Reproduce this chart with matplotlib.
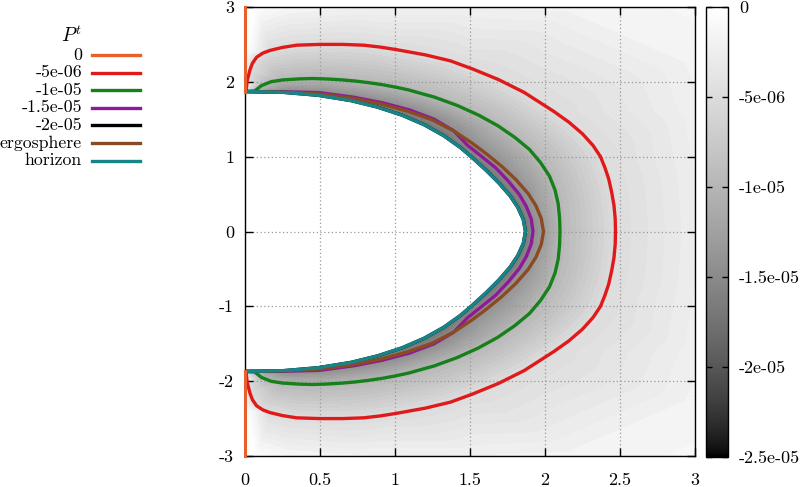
import numpy as np
import matplotlib
matplotlib.use("Agg")
import matplotlib.pyplot as plt
import matplotlib.tri as mtri
from matplotlib.colors import ListedColormap, Normalize
from matplotlib.colorbar import ColorbarBase
from matplotlib.lines import Line2D
from matplotlib.path import Path

plt.rcParams['font.family'] = 'serif'
plt.rcParams['font.serif'] = ['cmr10']
plt.rcParams['mathtext.fontset'] = 'cm'
plt.rcParams['axes.unicode_minus'] = False

# contour curves, upper half only (picture is mirror symmetric in y), pole -> equator
horizon_x = [0.0, 0.261, 0.488, 0.707, 0.884, 1.048, 1.196, 1.325, 1.436, 1.516, 1.607, 1.692, 1.768, 1.819, 1.855, 1.87]
horizon_y = [1.87, 1.859, 1.82, 1.749, 1.662, 1.554, 1.425, 1.28, 1.122, 0.985, 0.819, 0.649, 0.474, 0.321, 0.162, 0.0]

ergo_x = [0.0, 0.262, 0.493, 0.719, 0.906, 1.085, 1.25, 1.392, 1.513, 1.606, 1.711, 1.806, 1.888, 1.94, 1.975, 1.99]
ergo_y = [1.87, 1.862, 1.84, 1.78, 1.704, 1.608, 1.49, 1.344, 1.182, 1.043, 0.872, 0.693, 0.506, 0.342, 0.173, 0.0]

p15_x = [0.0, 0.262, 0.497, 0.725, 0.915, 1.096, 1.26, 1.392, 1.481, 1.568, 1.671, 1.755, 1.83, 1.876, 1.908, 1.92]
p15_y = [1.87, 1.867, 1.855, 1.794, 1.72, 1.625, 1.501, 1.344, 1.157, 1.018, 0.851, 0.674, 0.49, 0.331, 0.167, 0.0]

p10_x = [0.0, 0.066, 0.11, 0.175, 0.25, 0.359, 0.45, 0.546, 0.64, 0.732, 0.82, 0.915, 1.004, 1.09, 1.2,
         1.259, 1.414, 1.556, 1.685, 1.798, 1.897, 1.971, 2.03, 2.067, 2.088, 2.097, 2.10]
p10_y = [1.87, 1.879, 1.95, 2.002, 2.025, 2.039, 2.044, 2.038, 2.027, 2.011, 1.99, 1.962, 1.929, 1.892, 1.83,
         1.798, 1.685, 1.556, 1.414, 1.259, 1.095, 0.919, 0.739, 0.554, 0.368, 0.183, 0.0]

p05_x = [0.0, 0.007, 0.015, 0.033, 0.05, 0.078, 0.12, 0.167, 0.25, 0.345, 0.5, 0.65, 0.79, 0.9, 1.01,
         1.203, 1.37, 1.52, 1.69, 1.86, 2.057, 2.16, 2.25, 2.32, 2.37, 2.40, 2.425, 2.445, 2.46, 2.468, 2.47]
p05_y = [1.87, 1.88, 2.02, 2.16, 2.25, 2.33, 2.385, 2.42, 2.46, 2.49, 2.5, 2.5, 2.49, 2.465, 2.43,
         2.36, 2.28, 2.17, 2.03, 1.86, 1.607, 1.46, 1.305, 1.15, 1.0, 0.85, 0.7, 0.52, 0.347, 0.173, 0.0]

# P^t = 0 lies on the axis above the pole
p00_x = [0.0, 0.0]
p00_y = [1.87, 3.0]

# estimated background values (from the gray level) on the frame
edge_x = [0.0, 0.0, 0.0, 0.08, 0.3, 0.8, 1.5, 2.2, 3.0, 3.0, 3.0, 3.0, 3.0]
edge_y = [2.0, 2.4, 3.0, 3.0, 3.0, 3.0, 3.0, 3.0, 3.0, 2.3, 1.6, 0.8, 0.0]
edge_v = [0.0, 0.0, 0.0, -0.6e-6, -1.5e-6, -2.0e-6, -2.0e-6, -1.8e-6, -1.4e-6,
          -1.8e-6, -2.2e-6, -2.5e-6, -2.6e-6]

horizon_val = -1.75e-5
cb_ticks = [0, -5e-6, -1e-5, -1.5e-5, -2e-5, -2.5e-5]
cb_labels = ['0', '-5e-06', '-1e-05', '-1.5e-05', '-2e-05', '-2.5e-05']

series = [
    ('0', '#e8602c', p00_x, p00_y),
    ('-5e-06', '#e01a1a', p05_x, p05_y),
    ('-1e-05', '#17801a', p10_x, p10_y),
    ('-1.5e-05', '#8e1a9a', p15_x, p15_y),
    ('-2e-05', '#000000', horizon_x, horizon_y),
    ('ergosphere', '#8a4a22', ergo_x, ergo_y),
    ('horizon', '#178488', horizon_x, horizon_y),
]

FS = 13


def mirror(xs, ys):
    return list(xs) + list(xs[-2::-1]), list(ys) + [-v for v in ys[-2::-1]]


# gnuplot gray palette (gamma 1.5)
g = np.linspace(0, 1, 256) ** (1 / 1.5)
cmap = ListedColormap(np.column_stack([g, g, g]))
norm = Normalize(-2.5e-5, 0)

# scattered samples for the shaded background
px, py, pv = [], [], []
for xs, ys, v, skip in [(horizon_x, horizon_y, horizon_val, 0), (p15_x, p15_y, -1.5e-5, 1),
                        (p10_x, p10_y, -1e-5, 1), (p05_x, p05_y, -5e-6, 1),
                        (edge_x, edge_y, None, 0)]:
    for i in range(skip, len(xs)):
        val = edge_v[i] if v is None else v
        px.append(xs[i]); py.append(ys[i]); pv.append(val)
        if ys[i] != 0:
            px.append(xs[i]); py.append(-ys[i]); pv.append(val)
px, py, pv = np.array(px), np.array(py), np.array(pv)

tri = mtri.Triangulation(px, py)
hx, hy = mirror(horizon_x, horizon_y)
hole = Path(np.column_stack([[-0.01] + hx + [-0.01], [1.87] + hy + [-1.87]]))
cx = px[tri.triangles].mean(axis=1)
cy = py[tri.triangles].mean(axis=1)
tri.set_mask(hole.contains_points(np.column_stack([cx, cy])))

fig = plt.figure(figsize=(8, 4.87), dpi=100)
ax = fig.add_axes([245 / 800, 1 - 456 / 487, 450 / 800, 449 / 487])
ax.tricontourf(tri, pv, levels=np.linspace(-2.5e-5, 0, 51), cmap=cmap, norm=norm, zorder=0.2)

for label, color, xs, ys in series:
    if label == '0':
        ax.plot(xs, ys, color=color, lw=2.2, clip_on=False, zorder=3)
        ax.plot(xs, [-v for v in ys], color=color, lw=2.2, clip_on=False, zorder=3)
    else:
        fx, fy = mirror(xs, ys)
        ax.plot(fx, fy, color=color, lw=2.4, solid_joinstyle='round')

ax.set_xlim(0, 3)
ax.set_ylim(-3, 3)
ax.set_xticks([0, 0.5, 1, 1.5, 2, 2.5, 3])
ax.set_xticklabels(['0', '0.5', '1', '1.5', '2', '2.5', '3'])
ax.set_yticks([-3, -2, -1, 0, 1, 2, 3])
ax.set_yticklabels(['-3', '-2', '-1', '0', '1', '2', '3'])
ax.tick_params(direction='in', length=6, width=1, top=True, right=True, labelsize=FS)
ax.tick_params(axis='x', pad=12)
ax.tick_params(axis='y', pad=8)
ax.set_axisbelow('line')
ax.grid(True, color='#999999', linestyle=(0, (1, 2)), linewidth=0.9)
for s in ax.spines.values():
    s.set_linewidth(1)

cax = fig.add_axes([706 / 800, 1 - 457 / 487, 22 / 800, 450 / 487])
cb = ColorbarBase(cax, cmap=cmap, norm=norm, ticks=cb_ticks)
cb.set_ticklabels(cb_labels)
cb.outline.set_linewidth(1)
cax.tick_params(direction='in', length=4, width=1, left=True, right=True, labelsize=FS, pad=8)

# legend, placed left of the axes
fig.text(82 / 800, 1 - 36 / 487, r'$P^t$', ha='right', va='center', fontsize=14)
for i, (label, color, xs, ys) in enumerate(series):
    yy = 1 - (55 + 17.6 * i) / 487
    fig.text(82 / 800, yy, label, ha='right', va='center', fontsize=12.8)
    fig.add_artist(Line2D([92 / 800, 140 / 800], [yy, yy], color=color, lw=2.4,
                          transform=fig.transFigure))

fig.savefig('out.png', dpi=100)
